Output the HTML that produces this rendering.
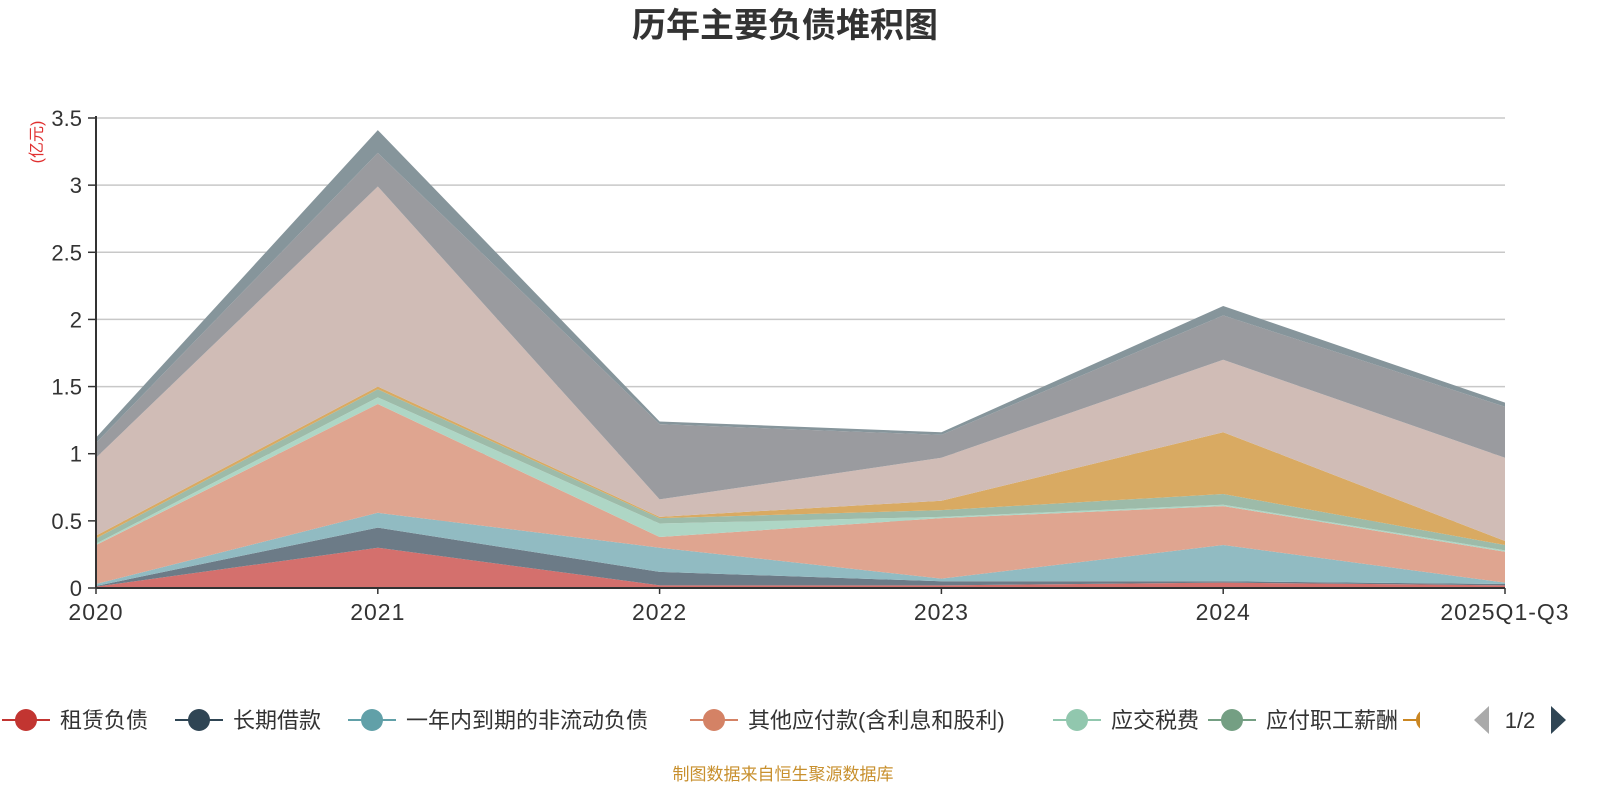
<!DOCTYPE html>
<html><head><meta charset="utf-8"><style>
body{margin:0;background:#fff;width:1600px;height:800px;overflow:hidden;font-family:"Liberation Sans","Noto Sans CJK SC",sans-serif}
</style></head><body>
<svg id="chart" width="1600" height="800" xmlns="http://www.w3.org/2000/svg" style="font-family:'Liberation Sans','Noto Sans CJK SC',sans-serif"></svg>
<script>
const categories = ["2020","2021","2022","2023","2024","2025Q1-Q3"];
const seriesNames = ["租赁负债","长期借款","一年内到期的非流动负债","其他应付款(含利息和股利)","应交税费","应付职工薪酬","应付账款","合同负债","短期借款","应付票据"];
const s0 = [0.01,0.30,0.02,0.02,0.04,0.02];
const s1 = [0.005,0.15,0.10,0.03,0.01,0.01];
const s2 = [0.015,0.11,0.18,0.02,0.27,0.01];
const s3 = [0.29,0.81,0.08,0.45,0.29,0.23];
const s4 = [0.01,0.05,0.10,0.01,0.01,0.01];
const s5 = [0.04,0.06,0.04,0.05,0.08,0.04];
const s6 = [0.02,0.02,0.01,0.07,0.46,0.03];
const s7 = [0.58,1.49,0.13,0.32,0.54,0.62];
const s8 = [0.11,0.25,0.56,0.17,0.33,0.38];
const s9 = [0.04,0.17,0.02,0.02,0.07,0.03];
const seriesValues = [s0,s1,s2,s3,s4,s5,s6,s7,s8,s9];
const yTicks = [0,0.5,1,1.5,2,2.5,3,3.5];
const yTickLabels = ["0","0.5","1","1.5","2","2.5","3","3.5"];
const fills = ["#d4706d","#6c7b87","#91bbc2","#dfa590","#aed6c5","#9dbba9","#d9aa62","#d0bcb6","#9a9b9f","#86959b"];
const legendColors = ["#c23531","#2f4554","#61a0a8","#d48265","#91c7ae","#749f83","#ca8622"];

const NS="http://www.w3.org/2000/svg";
const svg=document.getElementById('chart');
const X0=96,X1=1505,Y0=588,YT=118,YMAX=3.5;
const xs=i=>X0+(X1-X0)*i/(categories.length-1);
const ys=v=>Y0-(Y0-YT)*v/YMAX;
function mk(tag,attrs,parent){const e=document.createElementNS(NS,tag);for(const k in attrs)e.setAttribute(k,attrs[k]);(parent||svg).appendChild(e);return e;}

let t=mk('text',{x:785,y:37,'text-anchor':'middle','font-size':34,'font-weight':'bold',fill:'#333'});
t.textContent='历年主要负债堆积图';



t=mk('text',{x:0,y:0,'font-size':16,fill:'#e03030',transform:'translate(42,142) rotate(-90)','text-anchor':'middle'});
t.textContent='(亿元)';



yTicks.forEach((v,i)=>{
  const y=ys(v);
  if(v>0){const g=mk('line',{x1:X0,x2:X1,y1:y,y2:y,stroke:'#c8c8c8','stroke-width':1.5});
    
    }
  mk('line',{x1:X0-8,x2:X0,y1:y,y2:y,stroke:'#333','stroke-width':1.5});
  const l=mk('text',{x:X0-14,y:y+8,'text-anchor':'end','font-size':22,fill:'#333'});
  l.textContent=yTickLabels[i];
  
  
});

const cum=categories.map(()=>0);
seriesValues.forEach((vals,si)=>{
  const lower=cum.slice();
  vals.forEach((v,i)=>cum[i]+=v);
  let d='M'+categories.map((c,i)=>xs(i)+','+ys(cum[i])).join(' L');
  for(let i=categories.length-1;i>=0;i--)d+=' L'+xs(i)+','+ys(lower[i]);
  d+='Z';
  const p=mk('path',{d:d,fill:fills[si]});
  
  
});

mk('line',{x1:X0,x2:X0,y1:YT-2,y2:Y0,stroke:'#333','stroke-width':2});
mk('line',{x1:X0,x2:X1,y1:Y0,y2:Y0,stroke:'#333','stroke-width':2});
categories.forEach((c,i)=>{
  mk('line',{x1:xs(i),x2:xs(i),y1:Y0,y2:Y0+6,stroke:'#333','stroke-width':1.5});
  const l=mk('text',{x:xs(i),y:Y0+32,'text-anchor':'middle','font-size':23,'letter-spacing':1,fill:'#333'});
  l.textContent=c;
  
  
});

const legX=[2,175,348,690,1053,1208];
legX.forEach((x,i)=>{
  const g=mk('g',{});
  
  
  mk('line',{x1:x,x2:x+48,y1:720,y2:720,stroke:legendColors[i],'stroke-width':2},g);
  mk('circle',{cx:x+24,cy:720,r:11,fill:legendColors[i]},g);
  const l=mk('text',{x:x+58,y:728,'font-size':22,fill:'#333'},g);
  l.textContent=seriesNames[i];
});
const cp=mk('clipPath',{id:'cl'});mk('rect',{x:1400,y:700,width:20,height:40},cp);
const g7=mk('g',{'clip-path':'url(#cl)'});


mk('line',{x1:1403,x2:1451,y1:720,y2:720,stroke:legendColors[6],'stroke-width':2},g7);
mk('circle',{cx:1427,cy:720,r:11,fill:legendColors[6]},g7);
let a=mk('polygon',{points:'1489,706 1489,734 1474,720',fill:'#aaa'});


a=mk('polygon',{points:'1551,706 1551,734 1566,720',fill:'#2f4554'});


t=mk('text',{x:1520,y:728,'text-anchor':'middle','font-size':22,fill:'#333'});
t.textContent='1/2';



t=mk('text',{x:783,y:780,'text-anchor':'middle','font-size':17,fill:'#c8902e'});
t.textContent='制图数据来自恒生聚源数据库';


</script>
</body></html>
